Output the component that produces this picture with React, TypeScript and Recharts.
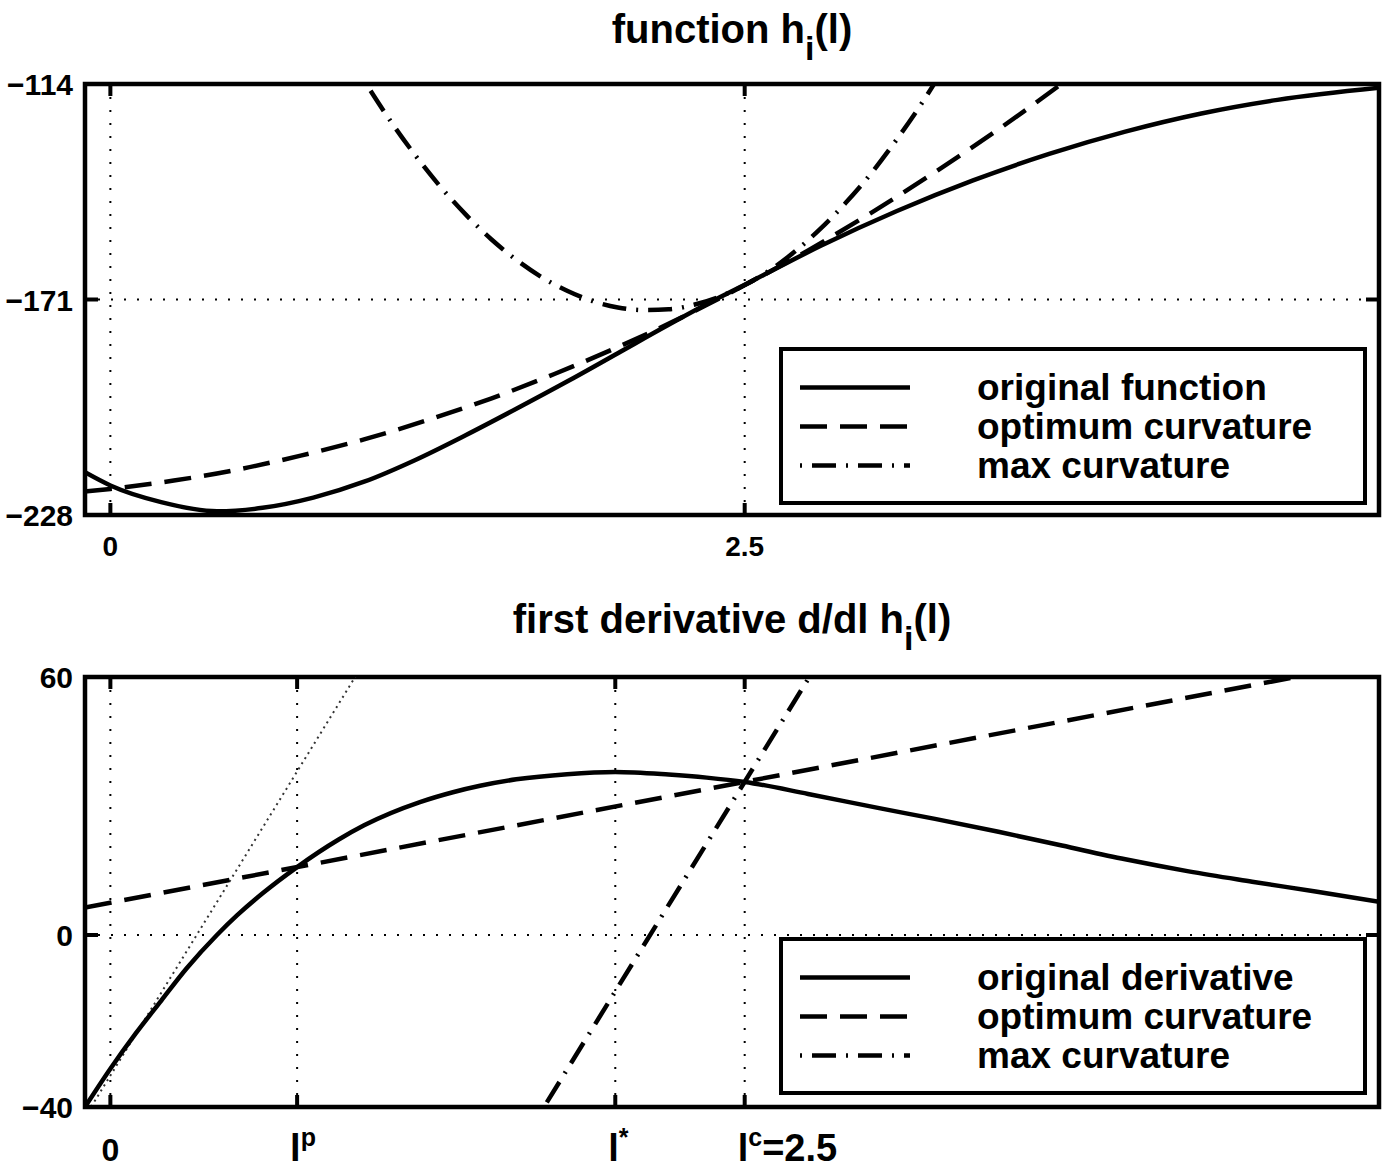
import React from "react";
import {
  LineChart,
  Line,
  XAxis,
  YAxis,
  CartesianGrid,
  ReferenceArea,
  Legend,
} from "recharts";

const FONT = "'Liberation Sans', Arial, Helvetica, sans-serif";

// ---- top panel: h_i(l) ----
const topXTicks = [0, 2.5];
const topYTicks = [-228, -171, -114];

const origL = [-0.1, 0, 0.2, 0.42, 0.6, 0.8, 1.0, 1.2, 1.4, 1.6, 1.8, 2.0, 2.2, 2.4, 2.5, 2.8, 3.1, 3.4, 3.7, 4.0, 4.3, 4.6, 5.0];
const origH = [-216.7, -220.2, -224.6, -227.0, -226.1, -223.4, -219.2, -213.5, -206.9, -199.9, -192.7, -185.2, -177.7, -170.5, -167.1, -156.8, -147.6, -139.5, -132.5, -126.6, -121.8, -118.2, -115.0];

const optL = [-0.1, 0, 0.25, 0.5, 0.75, 1.0, 1.25, 1.5, 1.75, 2.0, 2.25, 2.5, 2.75, 3.0, 3.25, 3.5, 3.75, 4.0];
const optH = [-221.8, -221.1, -218.9, -216.0, -212.3, -208.0, -202.9, -197.2, -190.7, -183.6, -175.8, -167.2, -158.0, -148.0, -137.3, -126.0, -113.9, -101.2];

const maxL = [1.0, 1.1, 1.2, 1.3, 1.4, 1.5, 1.6, 1.7, 1.8, 1.9, 2.0, 2.1, 2.2, 2.3, 2.4, 2.5, 2.6, 2.7, 2.8, 2.9, 3.0, 3.1, 3.2, 3.3];
const maxH = [-113.1, -123.4, -132.7, -141.1, -148.5, -155.0, -160.5, -165.1, -168.7, -171.4, -173.1, -173.8, -173.6, -172.4, -170.3, -167.2, -163.2, -158.2, -152.2, -145.3, -137.5, -128.6, -118.9, -108.1];

// ---- bottom panel: d/dl h_i(l) ----
const botXTicks = [0, 0.736, 1.99, 2.5];
const botXLabels = [["0"], ["l", "p"], ["l", "*"], ["l", "c", "=2.5"]];
const botYTicks = [-40, 0, 60];

const derivL = [-0.1, 0, 0.1, 0.2, 0.3, 0.42, 0.5, 0.6, 0.736, 0.9, 1.0, 1.22, 1.35, 1.457, 1.6, 1.8, 1.99, 2.2, 2.35, 2.5, 2.75, 3.03, 3.25, 3.5, 3.75, 4.0, 4.25, 4.5, 4.75, 5.0];
const derivV = [-40, -31.1, -22.9, -15.3, -7.8, 0, 4.6, 9.7, 15.8, 22.2, 25.5, 30.9, 33.2, 34.7, 36.2, 37.4, 37.9, 37.3, 36.6, 35.6, 32.8, 29.5, 27.0, 24.0, 20.8, 17.6, 14.8, 12.4, 10.1, 7.7];

const optDL = [-0.1, 5.0];
const optDV = [6.4, 63.7];

const maxDL = [1.6, 2.8];
const maxDV = [-50.4, 64.3];

const thinDL = [-0.1, 1.0];
const thinDV = [-42.3, 63.4];

const topLegend = ["original function", "optimum curvature", "max curvature"];
const botLegend = ["original derivative", "optimum curvature", "max curvature"];

type Pt = { l: number; v: number };
const zip = (ls: number[], vs: number[]): Pt[] => ls.map((l, i) => ({ l, v: vs[i] }));

const PLOT_W = 1294;
const LW = 4.5;
const DASH = "27 13";
const DASHDOT = "2 10 24 10";

function fmt(v: number) {
  return String(v).replace("-", "\u2212");
}

function makeXTick(plotH: number, labelFor: (v: number) => React.ReactNode) {
  return (props: any) => {
    const { x, y, payload } = props;
    return (
      <g>
        <line x1={x} x2={x} y1={y} y2={y - 12} stroke="#000" strokeWidth={4} />
        <line x1={x} x2={x} y1={y - plotH} y2={y - plotH + 12} stroke="#000" strokeWidth={4} />
        {labelFor(payload.value) && (
          <g transform={`translate(${x},${y})`}>{labelFor(payload.value)}</g>
        )}
      </g>
    );
  };
}

function YTick(props: any) {
  const { x, y, payload } = props;
  return (
    <g>
      <line x1={x} x2={x + 13} y1={y} y2={y} stroke="#000" strokeWidth={4} />
      <line x1={x + PLOT_W} x2={x + PLOT_W - 13} y1={y} y2={y} stroke="#000" strokeWidth={4} />
      <text
        x={x - 12}
        y={y + 11}
        textAnchor="end"
        fontFamily={FONT}
        fontWeight="bold"
        fontSize={30}
        fill="#000"
      >
        {fmt(payload.value)}
      </text>
    </g>
  );
}

const topLabel = (v: number) => (
  <text y={41} textAnchor="middle" fontFamily={FONT} fontWeight="bold" fontSize={28} fill="#000">
    {String(v)}
  </text>
);

const botLabel = (v: number) => {
  const parts = botXLabels[botXTicks.indexOf(v)];
  if (!parts) return null;
  if (parts.length === 1) {
    return (
      <text y={54} textAnchor="middle" fontFamily={FONT} fontWeight="bold" fontSize={32} fill="#000">
        {parts[0]}
      </text>
    );
  }
  return (
    <text x={-7} y={54} fontFamily={FONT} fontWeight="bold" fontSize={38} fill="#000">
      <tspan>{parts[0]}</tspan>
      <tspan dy={-15} fontSize={25}>{parts[1]}</tspan>
      {parts[2] && <tspan dy={15} fontSize={38}>{parts[2]}</tspan>}
    </text>
  );
};

function LegendBox({ labels }: { labels: string[] }) {
  const dashes = [undefined, DASH, DASHDOT];
  return (
    <div
      style={{
        boxSizing: "border-box",
        width: 588,
        height: 158,
        border: "4.5px solid #000",
        background: "#fff",
        position: "relative",
        fontFamily: FONT,
        fontWeight: "bold",
        fontSize: 37,
        color: "#000",
      }}
    >
      {labels.map((lab, i) => (
        <div key={lab} style={{ position: "absolute", left: 0, top: 17 + i * 39, height: 39, width: "100%" }}>
          <svg width={110} height={39} style={{ position: "absolute", left: 17, top: 0 }}>
            <line x1={0} x2={110} y1={19.5} y2={19.5} stroke="#000" strokeWidth={LW} strokeDasharray={dashes[i]} />
          </svg>
          <span style={{ position: "absolute", left: 194, top: 0, lineHeight: "39px", whiteSpace: "nowrap" }}>
            {lab}
          </span>
        </div>
      ))}
    </div>
  );
}

function Title({ top, children }: { top: number; children: React.ReactNode }) {
  return (
    <div
      style={{
        position: "absolute",
        left: 85,
        top,
        width: PLOT_W,
        textAlign: "center",
        fontFamily: FONT,
        fontWeight: "bold",
        fontSize: 40,
        lineHeight: "40px",
        color: "#000",
        whiteSpace: "nowrap",
      }}
    >
      {children}
    </div>
  );
}

const Sub = ({ c }: { c: string }) => (
  <span style={{ position: "relative", top: 17, fontSize: 34 }}>{c}</span>
);

export default function App() {
  const lineProps = { dataKey: "v", dot: false, isAnimationActive: false, stroke: "#000" } as const;
  return (
    <div style={{ position: "absolute", left: 0, top: 0, width: 1387, height: 1173, background: "#fff" }}>
      <Title top={9}>
        function h<Sub c="i" />(l)
      </Title>
      <div style={{ position: "absolute", left: 0, top: 0 }}>
        <LineChart width={1387} height={590} margin={{ top: 84, right: 8, bottom: 0, left: 0 }}>
          <CartesianGrid stroke="#000" strokeWidth={2} strokeDasharray="2 11" />
          <XAxis
            type="number"
            dataKey="l"
            domain={[-0.1, 5]}
            ticks={topXTicks}
            allowDataOverflow
            interval={0}
            axisLine={false}
            tickLine={false}
            tickSize={0}
            tickMargin={0}
            height={75}
            tick={makeXTick(431, topLabel)}
          />
          <YAxis
            type="number"
            domain={[-228, -114]}
            ticks={topYTicks}
            allowDataOverflow
            interval={0}
            axisLine={false}
            tickLine={false}
            tickSize={0}
            tickMargin={0}
            width={85}
            tick={YTick}
          />
          <ReferenceArea x1={-0.1} x2={5} y1={-228} y2={-114} fill="none" stroke="#000" strokeWidth={4.5} />
          <Line data={zip(maxL, maxH)} type="monotone" strokeWidth={LW} strokeDasharray={DASHDOT} {...lineProps} />
          <Line data={zip(optL, optH)} type="monotone" strokeWidth={LW} strokeDasharray={DASH} {...lineProps} />
          <Line data={zip(origL, origH)} type="monotone" strokeWidth={LW} {...lineProps} />
          <Legend
            verticalAlign="middle"
            align="center"
            wrapperStyle={{ left: 779, top: 347, width: 588, height: 158 }}
            content={() => <LegendBox labels={topLegend} />}
          />
        </LineChart>
      </div>

      <Title top={599}>
        first derivative d/dl h<Sub c="i" />(l)
      </Title>
      <div style={{ position: "absolute", left: 0, top: 590 }}>
        <LineChart width={1387} height={583} margin={{ top: 87, right: 8, bottom: 0, left: 0 }}>
          <CartesianGrid stroke="#000" strokeWidth={2} strokeDasharray="2 11" />
          <XAxis
            type="number"
            dataKey="l"
            domain={[-0.1, 5]}
            ticks={botXTicks}
            allowDataOverflow
            interval={0}
            axisLine={false}
            tickLine={false}
            tickSize={0}
            tickMargin={0}
            height={66}
            tick={makeXTick(430, botLabel)}
          />
          <YAxis
            type="number"
            domain={[-40, 60]}
            ticks={botYTicks}
            allowDataOverflow
            interval={0}
            axisLine={false}
            tickLine={false}
            tickSize={0}
            tickMargin={0}
            width={85}
            tick={YTick}
          />
          <ReferenceArea x1={-0.1} x2={5} y1={-40} y2={60} fill="none" stroke="#000" strokeWidth={4.5} />
          <Line data={zip(thinDL, thinDV)} type="linear" strokeWidth={2} strokeDasharray="2 4" {...lineProps} stroke="#333" />
          <Line data={zip(maxDL, maxDV)} type="linear" strokeWidth={LW} strokeDasharray={DASHDOT} {...lineProps} />
          <Line data={zip(optDL, optDV)} type="linear" strokeWidth={LW} strokeDasharray={DASH} {...lineProps} />
          <Line data={zip(derivL, derivV)} type="monotone" strokeWidth={LW} {...lineProps} />
          <Legend
            verticalAlign="middle"
            align="center"
            wrapperStyle={{ left: 779, top: 347, width: 588, height: 158 }}
            content={() => <LegendBox labels={botLegend} />}
          />
        </LineChart>
      </div>
    </div>
  );
}
